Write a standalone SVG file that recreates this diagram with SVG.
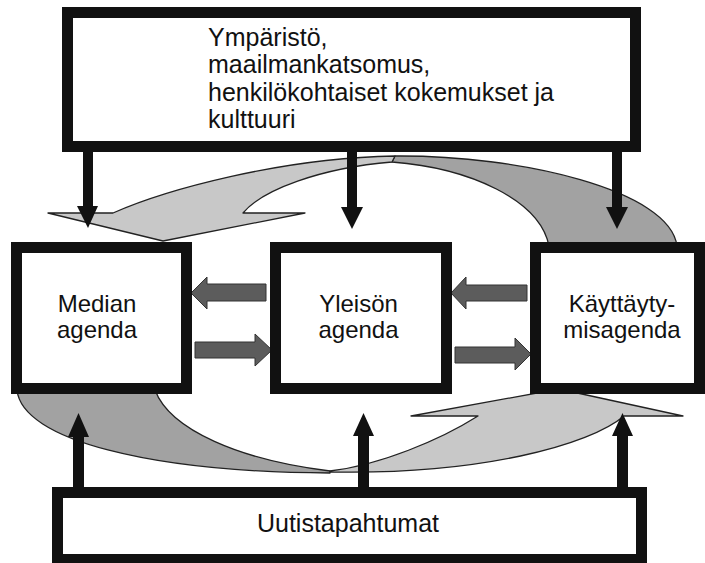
<svg xmlns="http://www.w3.org/2000/svg" width="705" height="563" viewBox="0 0 705 563">
<style>
.box{fill:#fff;stroke:#111;stroke-width:11}
.t{font-family:"Liberation Sans",Arial,sans-serif;fill:#111}
.lt{fill:#c8c8c8;stroke:#222;stroke-width:1.3;stroke-linejoin:round}
.dk{fill:#a2a2a2;stroke:#222;stroke-width:1.3;stroke-linejoin:round}
.blk{fill:#5c5c5c;stroke:#333;stroke-width:1}
.va{fill:#111}
</style>
<rect width="705" height="563" fill="#fff"/>
<g id="connectors">
  <!-- top cycle band -->
  <path class="dk" d="M395,156 C520,155 670,190 677,246 L549,246 C540,200 470,168 392,162 Z"/>
  <path class="lt" d="M395,156 C280,158 165,190 113,213 L48,213 L163,241 L305,213 L243,213 C262,190 320,168 392,162 Z"/>
  <!-- bottom cycle band -->
  <path class="dk" d="M17,390 C22,440 150,472 330,473 L330,471 C240,460 170,430 155,390 Z"/>
  <path class="lt" d="M330,472 C480,475 590,445 624,416 L683,416 L559,389 L411,416 L478,416 C440,440 380,465 330,471 Z"/>
  <!-- horizontal block arrows -->
  <polygon class="blk" points="191,293 207,277 207,284 266,284 266,301 207,301 207,309"/>
  <polygon class="blk" points="195,342 255,342 255,334 272,350 255,366 255,358 195,358"/>
  <polygon class="blk" points="451,293 466,277 466,285 527,285 527,301 466,301 466,309"/>
  <polygon class="blk" points="455,347 515,347 515,338 531,354 515,370 515,363 455,363"/>
  <!-- vertical arrows from top box -->
  <path class="va" d="M83,150 H93 V206 H98 L88,228 L77,206 H83 Z"/>
  <path class="va" d="M347,150 H357 V207 H363 L352,229 L341,207 H347 Z"/>
  <path class="va" d="M612,150 H622 V207 H628 L617,229 L606,207 H612 Z"/>
  <!-- vertical arrows from bottom box -->
  <path class="va" d="M73,489 H84 V437 H89 L78.5,413 L68,437 H73 Z"/>
  <path class="va" d="M358,489 H369 V436 H374 L363.5,413 L353,436 H358 Z"/>
  <path class="va" d="M617,489 H628 V436 H633 L622.5,413 L612,436 H617 Z"/>
</g>
<g id="ymparisto">
  <rect class="box" x="67.5" y="12.5" width="568" height="134"/>
  <text class="t" font-size="25" x="208" y="45.5">Ympäristö,</text>
  <text class="t" font-size="25" x="208" y="73">maailmankatsomus,</text>
  <text class="t" font-size="25" x="208" y="100.5">henkilökohtaiset kokemukset ja</text>
  <text class="t" font-size="25" x="208" y="128">kulttuuri</text>
</g>
<g id="median-agenda">
  <rect class="box" x="16.5" y="247.5" width="170" height="141"/>
  <text class="t" font-size="24" text-anchor="middle" x="97" y="312">Median</text>
  <text class="t" font-size="24" text-anchor="middle" x="97" y="338">agenda</text>
</g>
<g id="yleison-agenda">
  <rect class="box" x="275.5" y="247.5" width="171" height="141"/>
  <text class="t" font-size="24" text-anchor="middle" x="358.5" y="312">Yleisön</text>
  <text class="t" font-size="24" text-anchor="middle" x="358.5" y="338">agenda</text>
</g>
<g id="kayttaytymisagenda">
  <rect class="box" x="535.5" y="247.5" width="164" height="141"/>
  <text class="t" font-size="24" text-anchor="middle" x="622" y="312">Käyttäyty-</text>
  <text class="t" font-size="24" text-anchor="middle" x="622" y="338">misagenda</text>
</g>
<g id="uutistapahtumat">
  <rect class="box" x="57.5" y="492.5" width="584" height="67"/>
  <text class="t" font-size="25" text-anchor="middle" x="348" y="532">Uutistapahtumat</text>
</g>
</svg>
